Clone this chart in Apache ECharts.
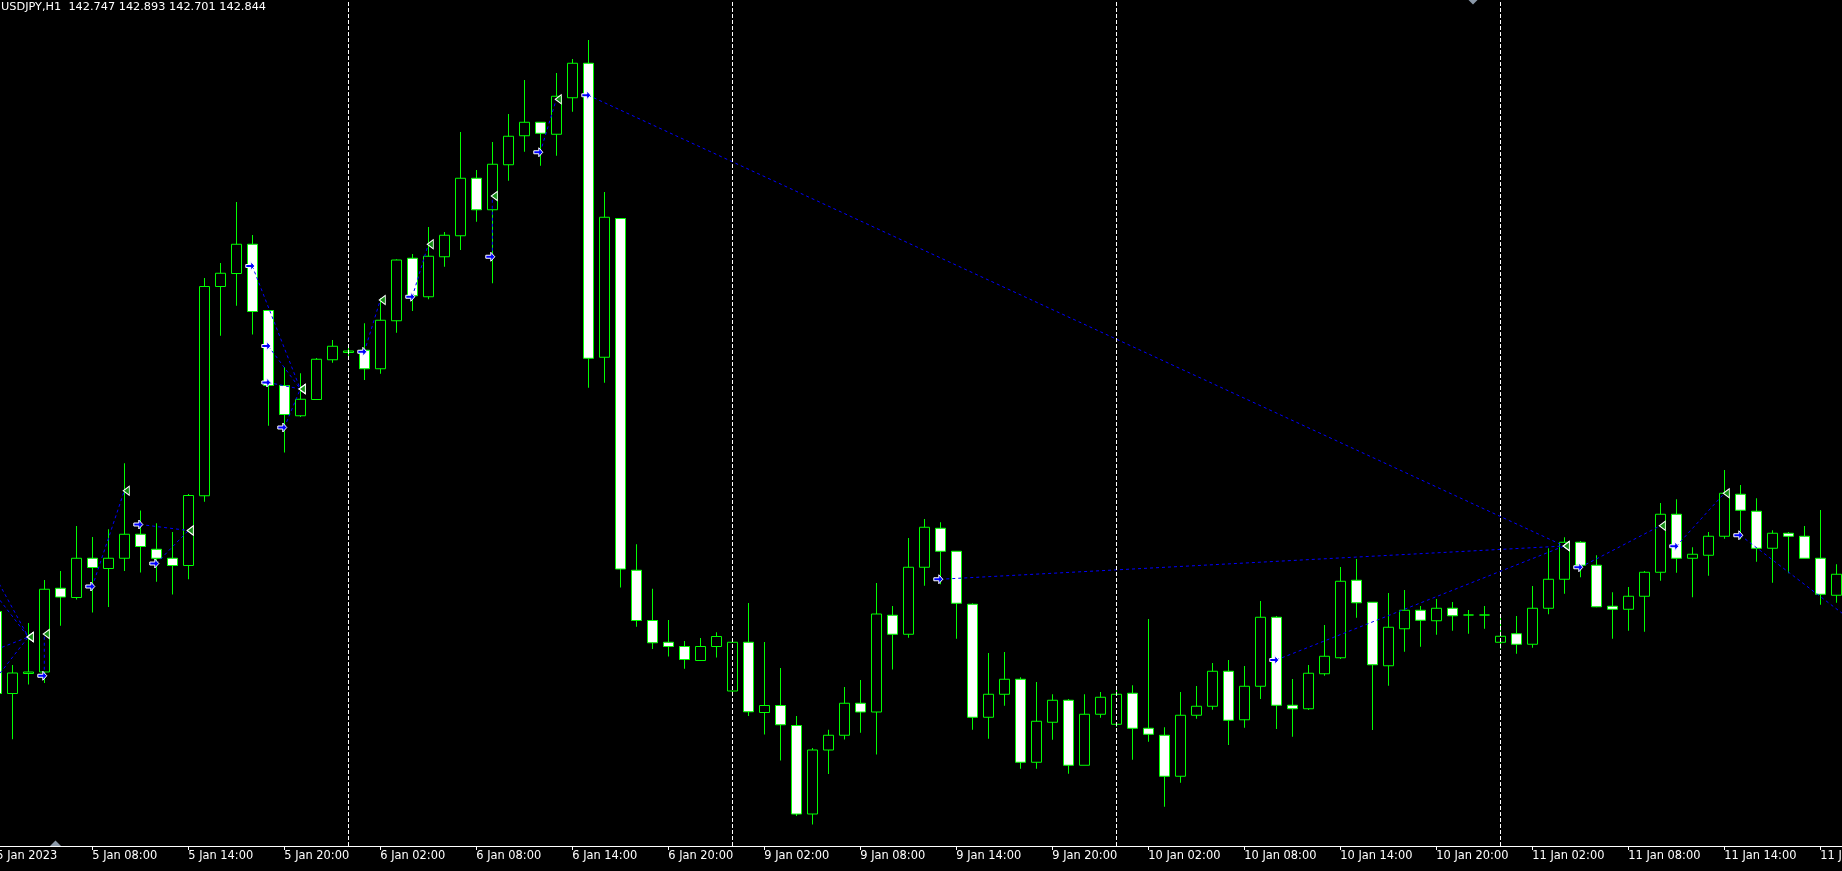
<!DOCTYPE html>
<html>
<head>
<meta charset="utf-8">
<script src="https://cdn.jsdelivr.net/npm/echarts@6/dist/echarts.min.js"></script>
<style>
html,body{margin:0;padding:0;background:#000;overflow:hidden}
#chart{width:1842px;height:871px}
</style>
</head>
<body>
<div id="chart"></div>
<script>
// ---- categories: one per hourly bar ----
const categories = [
  '5 Jan 02:00','5 Jan 03:00','5 Jan 04:00','5 Jan 05:00','5 Jan 06:00','5 Jan 07:00','5 Jan 08:00','5 Jan 09:00','5 Jan 10:00','5 Jan 11:00','5 Jan 12:00',
  '5 Jan 13:00','5 Jan 14:00','5 Jan 15:00','5 Jan 16:00','5 Jan 17:00','5 Jan 18:00','5 Jan 19:00','5 Jan 20:00','5 Jan 21:00','5 Jan 22:00','5 Jan 23:00',
  '6 Jan 00:00','6 Jan 01:00','6 Jan 02:00','6 Jan 03:00','6 Jan 04:00','6 Jan 05:00','6 Jan 06:00','6 Jan 07:00','6 Jan 08:00','6 Jan 09:00','6 Jan 10:00','6 Jan 11:00',
  '6 Jan 12:00','6 Jan 13:00','6 Jan 14:00','6 Jan 15:00','6 Jan 16:00','6 Jan 17:00','6 Jan 18:00','6 Jan 19:00','6 Jan 20:00','6 Jan 21:00','6 Jan 22:00','6 Jan 23:00',
  '9 Jan 00:00','9 Jan 01:00','9 Jan 02:00','9 Jan 03:00','9 Jan 04:00','9 Jan 05:00','9 Jan 06:00','9 Jan 07:00','9 Jan 08:00','9 Jan 09:00','9 Jan 10:00','9 Jan 11:00',
  '9 Jan 12:00','9 Jan 13:00','9 Jan 14:00','9 Jan 15:00','9 Jan 16:00','9 Jan 17:00','9 Jan 18:00','9 Jan 19:00','9 Jan 20:00','9 Jan 21:00','9 Jan 22:00','9 Jan 23:00',
  '10 Jan 00:00','10 Jan 01:00','10 Jan 02:00','10 Jan 03:00','10 Jan 04:00','10 Jan 05:00','10 Jan 06:00','10 Jan 07:00','10 Jan 08:00','10 Jan 09:00','10 Jan 10:00','10 Jan 11:00',
  '10 Jan 12:00','10 Jan 13:00','10 Jan 14:00','10 Jan 15:00','10 Jan 16:00','10 Jan 17:00','10 Jan 18:00','10 Jan 19:00','10 Jan 20:00','10 Jan 21:00','10 Jan 22:00','10 Jan 23:00',
  '11 Jan 00:00','11 Jan 01:00','11 Jan 02:00','11 Jan 03:00','11 Jan 04:00','11 Jan 05:00','11 Jan 06:00','11 Jan 07:00','11 Jan 08:00','11 Jan 09:00','11 Jan 10:00','11 Jan 11:00',
  '11 Jan 12:00','11 Jan 13:00','11 Jan 14:00','11 Jan 15:00','11 Jan 16:00','11 Jan 17:00','11 Jan 18:00','11 Jan 19:00','11 Jan 20:00','11 Jan 21:00','11 Jan 22:00'
];
const firstTickLabel = '5 Jan 2023';
const headerText = 'USDJPY,H1  142.747 142.893 142.701 142.844';
const daySeparators = ['6 Jan 00:00','9 Jan 00:00','10 Jan 00:00','11 Jan 00:00'];

// ---- OHLC values ----
const opens = [
  132.554,132.226,132.306,132.312,132.647,132.610,132.767,132.726,132.767,132.863,
  132.803,132.767,132.738,133.017,133.854,133.906,134.023,133.758,133.458,133.337,
  133.402,133.561,133.590,133.599,133.525,133.717,133.967,133.813,133.973,134.057,
  134.287,134.161,134.341,134.457,134.511,134.463,134.609,134.747,133.571,134.126,
  132.719,132.518,132.431,132.414,132.358,132.414,132.236,132.431,132.150,132.178,
  132.098,131.744,132.000,132.059,132.187,132.152,132.539,132.463,132.731,132.887,
  132.795,132.583,132.131,132.223,132.283,131.951,132.111,132.199,131.939,132.143,
  132.103,132.227,132.087,132.059,131.895,132.139,132.175,132.315,132.121,132.255,
  132.531,132.179,132.165,132.305,132.369,132.679,132.591,132.337,132.485,132.559,
  132.517,132.567,132.540,132.540,132.431,132.465,132.423,132.567,132.683,132.831,
  132.739,132.575,132.563,132.615,132.711,132.943,132.767,132.779,132.855,133.023,
  132.955,132.807,132.867,132.855,132.767,132.619
];
const closes = [
  132.226,132.308,132.312,132.643,132.612,132.767,132.730,132.767,132.863,132.814,
  132.767,132.738,133.018,133.854,133.907,134.023,133.754,133.458,133.342,133.403,
  133.563,133.615,133.596,133.525,133.719,133.960,133.817,133.975,134.059,134.287,
  134.161,134.343,134.455,134.511,134.467,134.615,134.747,133.567,134.131,132.724,
  132.518,132.429,132.414,132.362,132.414,132.454,132.431,132.153,132.178,132.101,
  131.744,132.000,132.059,132.187,132.152,132.544,132.463,132.731,132.891,132.795,
  132.587,132.131,132.223,132.283,131.951,132.115,132.199,131.939,132.143,132.211,
  132.223,132.087,132.063,131.895,132.139,132.175,132.315,132.119,132.255,132.531,
  132.179,132.165,132.307,132.375,132.675,132.589,132.341,132.491,132.559,132.519,
  132.567,132.537,132.540,132.540,132.455,132.423,132.567,132.683,132.831,132.739,
  132.573,132.563,132.615,132.711,132.943,132.767,132.783,132.855,133.027,132.959,
  132.807,132.867,132.855,132.767,132.623,132.703
];
const highs = [
  132.588,132.340,132.508,132.680,132.716,132.896,132.852,132.883,133.147,132.958,
  132.907,132.872,133.024,133.888,133.948,134.192,134.060,133.758,133.532,133.507,
  133.568,133.640,133.623,133.707,133.808,133.963,133.984,134.092,134.072,134.472,
  134.320,134.432,134.544,134.680,134.511,134.708,134.764,134.840,134.232,134.126,
  132.823,132.645,132.520,132.436,132.448,132.471,132.446,132.588,132.432,132.328,
  132.136,132.008,132.081,132.252,132.280,132.668,132.576,132.848,132.924,132.911,
  132.795,132.587,132.388,132.392,132.291,132.272,132.223,132.204,132.223,132.232,
  132.248,132.259,132.524,132.091,132.232,132.256,132.348,132.360,132.336,132.596,
  132.536,132.284,132.340,132.500,132.732,132.764,132.591,132.628,132.640,132.576,
  132.604,132.592,132.560,132.576,132.532,132.536,132.656,132.807,132.851,132.836,
  132.779,132.631,132.652,132.716,132.988,133.003,132.811,132.872,133.120,133.060,
  133.007,132.879,132.872,132.896,132.960,132.743
];
const lows = [
  132.200,132.043,132.262,132.268,132.497,132.602,132.550,132.572,132.716,132.710,
  132.673,132.622,132.683,132.993,133.657,133.777,133.662,133.297,133.190,133.332,
  133.402,133.549,133.567,133.480,133.505,133.669,133.756,133.803,133.933,134.000,
  134.113,133.867,134.277,134.393,134.337,134.377,134.553,133.449,133.469,132.650,
  132.493,132.404,132.374,132.325,132.358,132.370,132.216,132.136,132.062,131.958,
  131.736,131.702,131.904,132.042,132.069,131.982,132.322,132.449,132.657,132.663,
  132.445,132.081,132.045,132.177,131.925,131.925,132.041,131.905,131.939,132.129,
  132.093,131.961,132.033,131.773,131.869,132.125,132.161,132.020,132.089,132.204,
  132.084,132.053,132.160,132.297,132.364,132.529,132.080,132.257,132.393,132.413,
  132.461,132.477,132.465,132.485,132.405,132.385,132.409,132.543,132.625,132.691,
  132.571,132.445,132.477,132.473,132.677,132.709,132.611,132.697,132.845,132.843,
  132.753,132.669,132.707,132.767,132.581,132.589
];

// ---- trade history (entry -> exit) ----
const tradeOpenTime = ['5 Jan 02:00','5 Jan 02:00','5 Jan 02:00','5 Jan 02:00','5 Jan 05:00','5 Jan 08:00','5 Jan 11:00','5 Jan 12:00',
  '5 Jan 18:00','5 Jan 19:00','5 Jan 19:00','5 Jan 20:00','6 Jan 01:00','6 Jan 04:00','6 Jan 09:00','6 Jan 12:00',
  '6 Jan 15:00','9 Jan 13:00','10 Jan 10:00','11 Jan 05:00','11 Jan 11:00','11 Jan 15:00'];
const tradeOpenPrice = [132.686,132.618,132.402,132.288,132.297,132.654,132.902,132.746,
  133.936,133.616,133.470,133.290,133.593,133.813,133.973,134.391,
  134.619,132.683,132.360,132.731,132.815,132.859];
const tradeCloseTime = ['5 Jan 04:00','5 Jan 04:00','5 Jan 04:00','5 Jan 04:00','5 Jan 05:00','5 Jan 10:00','5 Jan 14:00','5 Jan 14:00',
  '5 Jan 21:00','5 Jan 21:00','5 Jan 21:00','5 Jan 21:00','6 Jan 02:00','6 Jan 05:00','6 Jan 09:00','6 Jan 13:00',
  '11 Jan 04:00','11 Jan 04:00','11 Jan 04:00','11 Jan 10:00','11 Jan 14:00','11 Jan 22:00'];
const tradeClosePrice = [132.452,132.452,132.452,132.452,132.464,133.037,132.878,132.878,
  133.444,133.444,133.444,133.444,133.800,134.023,134.216,134.603,
  132.816,132.816,132.816,132.897,133.027,132.516];

// ---- build options ----
const candleData = opens.map((o, i) => [o, closes[i], lows[i], highs[i]]);
const FONT = '"DejaVu Sans", sans-serif';

const tradeLines = tradeOpenTime.map((t, i) => ({
  type: 'line',
  data: [[t, tradeOpenPrice[i]], [tradeCloseTime[i], tradeClosePrice[i]]],
  showSymbol: false,
  symbol: 'none',
  silent: true,
  z: 4,
  lineStyle: { color: '#0000ff', width: 1, type: [3, 3] }
}));

const chart = echarts.init(document.getElementById('chart'), null, { renderer: 'canvas' });
chart.setOption({
  animation: false,
  backgroundColor: '#000000',
  grid: { left: -11.7, right: -18.3, top: 0, bottom: 25, containLabel: false, outerBoundsMode: 'none' },
  xAxis: {
    type: 'category',
    data: categories,
    boundaryGap: true,
    axisLine: { show: true, lineStyle: { color: '#ffffff', width: 1 } },
    axisTick: { show: true, interval: 5, alignWithLabel: true, length: 4, lineStyle: { color: '#ffffff' } },
    axisLabel: {
      show: true, interval: 5, align: 'left', margin: 5, hideOverlap: false,
      color: '#ffffff', fontFamily: FONT, fontSize: 11.4,
      formatter: (v, i) => (i === 0 ? firstTickLabel : v)
    },
    splitLine: { show: false }
  },
  yAxis: { type: 'value', min: 131.616, max: 135, show: false, splitLine: { show: false } },
  graphic: [
    { type: 'text', left: 1, top: 2, z: 100,
      style: { text: headerText, fill: '#ffffff', font: '11.3px ' + FONT } },
    { type: 'polygon', z: 100, shape: { points: [[50, 846], [55.5, 840.5], [61, 846]] }, style: { fill: '#8a98a8' } },
    { type: 'polygon', z: 100, shape: { points: [[1468.5, 0], [1477.5, 0], [1473, 4.5]] }, style: { fill: '#8a98a8' } }
  ],
  series: [
    {
      type: 'line', data: [], silent: true, z: 1,
      markLine: {
        silent: true, symbol: ['none', 'none'], animation: false,
        label: { show: false },
        lineStyle: { color: '#ffffff', width: 1, type: [4, 2] },
        data: daySeparators.map(t => ({ xAxis: t }))
      }
    },
    {
      type: 'candlestick',
      data: candleData,
      barWidth: 10,
      silent: true,
      z: 3,
      itemStyle: {
        color: '#000000', color0: '#ffffff',
        borderColor: '#00ff00', borderColor0: '#00ff00', borderColorDoji: '#00ff00',
        borderWidth: 1
      }
    },
    ...tradeLines,
    {
      type: 'scatter', silent: true, z: 6,
      data: tradeOpenTime.map((t, i) => [t, tradeOpenPrice[i]]),
      symbol: 'path://M0,3L5,3L5,0L9,4.5L5,9L5,6L0,6Z',
      symbolSize: [9, 9], symbolOffset: [-2, 0],
      itemStyle: { color: '#0000ff', borderColor: '#ffffff', borderWidth: 1, opacity: 1 }
    },
    {
      type: 'scatter', silent: true, z: 6,
      data: tradeCloseTime.map((t, i) => [t, tradeClosePrice[i]]),
      symbol: 'path://M6,0L6,9L0,4.5Z',
      symbolSize: [6, 9], symbolOffset: [2, 0],
      itemStyle: { color: '#138c13', borderColor: '#ffffff', borderWidth: 1, opacity: 1 }
    }
  ]
});
</script>
</body>
</html>
